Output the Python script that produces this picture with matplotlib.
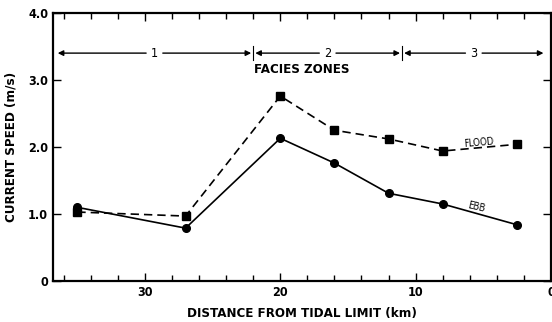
import numpy as np
import matplotlib as mpl
mpl.use('agg')
import matplotlib.pyplot as plt
from matplotlib.ticker import MultipleLocator

plt.rcParams['font.family'] = ['Liberation Sans Narrow', 'DejaVu Sans']
plt.rcParams['font.stretch'] = 'condensed'
plt.rcParams['font.weight'] = 'bold'
plt.rcParams['axes.labelweight'] = 'bold'

# Data

dist = [35, 27, 20, 16, 12, 8, 2.5]
ebb = [1.10, 0.79, 2.13, 1.76, 1.31, 1.15, 0.84]
flood = [1.03, 0.97, 2.76, 2.25, 2.12, 1.94, 2.04]

zone_names = ['1', '2', '3']
zone_edges = [36.6, 22, 11, 0.4]

fig = plt.figure(figsize=(5.52, 3.22), dpi=100)
ax = fig.add_axes([0.096, 0.127, 0.902, 0.833])

ax.plot(dist, flood, color='black', lw=1.2, ls=(0, (5, 3)),
        marker='s', ms=5.5)
ax.plot(dist, ebb, color='black', lw=1.2, marker='o', ms=5.5)

ax.set_xlim(36.8, 0)
ax.set_ylim(0, 4.0)

ax.xaxis.set_major_locator(MultipleLocator(10))
ax.xaxis.set_minor_locator(MultipleLocator(2))
ax.set_yticks([0, 1, 2, 3, 4])
ax.set_yticklabels(['0', '1.0', '2.0', '3.0', '4.0'])
ax.tick_params(which='both', direction='in', top=True, right=True,
               labelsize=9, width=1)
ax.tick_params(which='major', length=6)
ax.tick_params(which='minor', length=4)
for s in ax.spines.values():
    s.set_linewidth(1.6)

ax.set_xlabel('DISTANCE FROM TIDAL LIMIT (km)', fontsize=9.5, labelpad=6)
ax.set_ylabel('CURRENT SPEED (m/s)', fontsize=9.5, labelpad=8)

# Facies zones
yz = 3.40
for i, name in enumerate(zone_names):
    a, b = zone_edges[i], zone_edges[i + 1]
    mid = (a + b) / 2
    ax.text(mid, yz, name, ha='center', va='center', fontsize=9,
            fontweight='normal', bbox=dict(fc='white', ec='none', pad=1))
    ax.annotate('', xy=(a - 0.15, yz), xytext=(mid, yz),
                arrowprops=dict(arrowstyle='-|>', color='black', lw=1,
                                mutation_scale=8, shrinkA=6, shrinkB=0))
    ax.annotate('', xy=(b + 0.15, yz), xytext=(mid, yz),
                arrowprops=dict(arrowstyle='-|>', color='black', lw=1,
                                mutation_scale=8, shrinkA=6, shrinkB=0))
for e in zone_edges[1:-1]:
    ax.plot([e, e], [yz - 0.1, yz + 0.1], color='black', lw=0.8)

ax.text(18.4, 3.15, 'FACIES ZONES', ha='center', va='center', fontsize=9.5)
ax.text(5.3, 2.07, 'FLOOD', ha='center', va='center', fontsize=7,
        fontweight='normal', rotation=5)
ax.text(5.5, 1.11, 'EBB', ha='center', va='center', fontsize=7,
        fontweight='normal', rotation=-13)

fig.savefig('out.png', dpi=100)
